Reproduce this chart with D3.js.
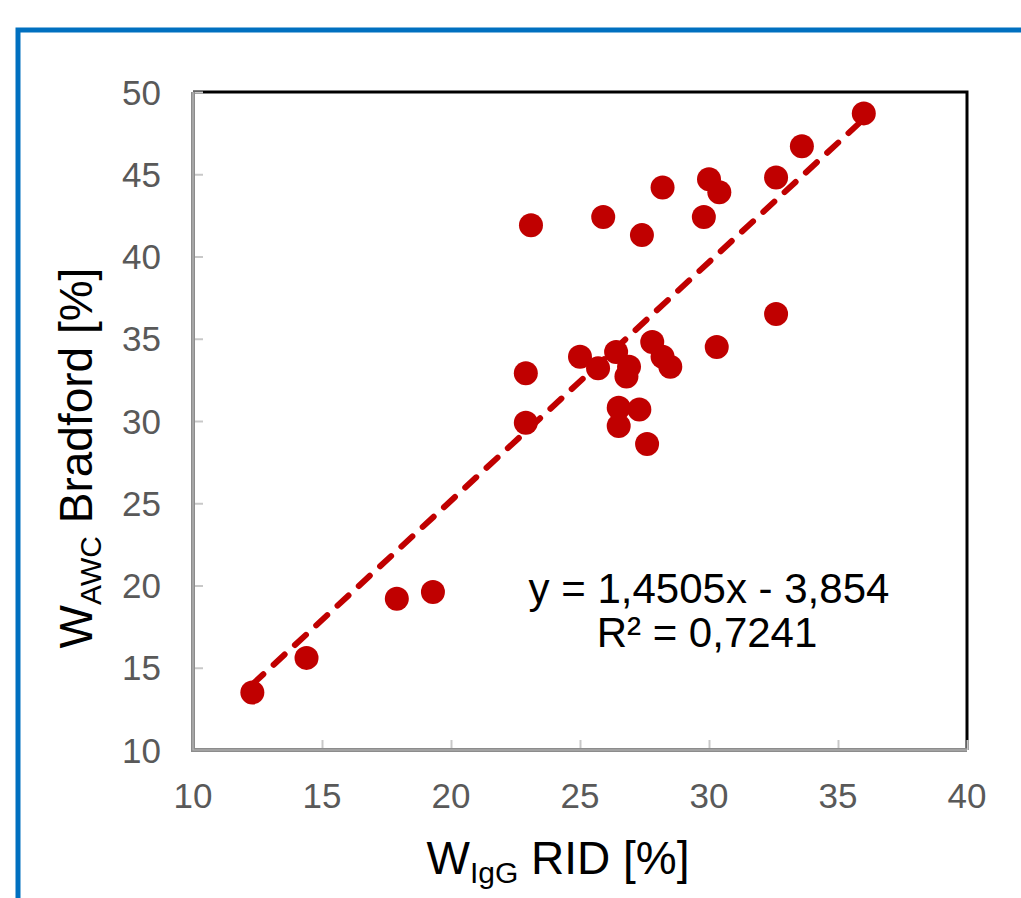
<!DOCTYPE html>
<html><head><meta charset="utf-8">
<script src="https://cdn.jsdelivr.net/npm/d3@7"></script>
<style>html,body{margin:0;padding:0;background:#fff;}svg{display:block;}</style>
</head><body>
<script>
const xValues = [12.3,14.4,17.9,19.3,22.9,22.9,25.0,25.7,26.4,26.9,26.8,27.8,28.2,28.5,30.3,26.5,26.5,27.3,27.6,23.1,25.9,27.4,28.2,30.0,30.4,29.8,32.6,33.6,36.0,32.6];
const yValues = [13.5,15.6,19.2,19.6,32.9,29.9,33.9,33.2,34.2,33.3,32.7,34.8,33.9,33.3,34.5,30.8,29.7,30.7,28.6,41.9,42.4,41.3,44.2,44.7,43.9,42.4,44.8,46.7,48.7,36.5];
const xTicks = [10,15,20,25,30,35,40];
const yTicks = [10,15,20,25,30,35,40,45,50];
const slope = 1.4505, intercept = -3.854;
const eqLine1 = "y = 1,4505x - 3,854";
const eqLine2 = "R² = 0,7241";

const W = 1021, H = 898;
const svg = d3.select("body").append("svg").attr("width", W).attr("height", H);
const font = "'Liberation Sans', Arial, sans-serif";

// blue frame
svg.append("path").attr("d", "M18,898 L18,30 L1021,30").attr("fill","none")
  .attr("stroke","#0070C0").attr("stroke-width",5);

const x = d3.scaleLinear().domain([10,40]).range([193,967]);
const y = d3.scaleLinear().domain([10,50]).range([750,92]);

// plot border (top/right black)
svg.append("path").attr("d", `M${x(10)},${y(50)} L${x(40)},${y(50)} L${x(40)},${y(10)}`)
  .attr("fill","none").attr("stroke","#000").attr("stroke-width",3);

// inward ticks
const xAxis = d3.axisTop(x).tickValues(xTicks).tickSize(10).tickFormat("");
const gx = svg.append("g").attr("transform", `translate(0,${y(10)})`).call(xAxis);
gx.select(".domain").remove();
gx.selectAll(".tick line").attr("stroke","#c8c8c8").attr("stroke-width",2);
const yAxis = d3.axisRight(y).tickValues(yTicks).tickSize(10).tickFormat("");
const gy = svg.append("g").attr("transform", `translate(${x(10)},0)`).call(yAxis);
gy.select(".domain").remove();
gy.selectAll(".tick line").attr("stroke","#c8c8c8").attr("stroke-width",2);

// left/bottom axis lines gray
svg.append("path").attr("d", `M${x(10)},${y(50)} L${x(10)},${y(10)} L${x(40)},${y(10)}`)
  .attr("fill","none").attr("stroke","#8c8c8c").attr("stroke-width",4);
svg.append("path").attr("d", `M${x(10)},${y(50)} L${x(10)},${y(10)} L${x(40)},${y(10)}`)
  .attr("fill","none").attr("stroke","#b8b8b8").attr("stroke-width",1.2);

// tick labels
svg.append("g").selectAll("text").data(xTicks).join("text")
  .attr("x", d => x(d)).attr("y", 808).attr("text-anchor","middle")
  .attr("font-family", font).attr("font-size", 35).attr("fill","#595959").text(d => d);
svg.append("g").selectAll("text").data(yTicks).join("text")
  .attr("x", 161).attr("y", d => y(d)).attr("dy","0.36em").attr("text-anchor","end")
  .attr("font-family", font).attr("font-size", 35).attr("fill","#595959").text(d => d);

// trendline
const x0 = d3.min(xValues), x1 = d3.max(xValues);
svg.append("line")
  .attr("x1", x(x0)).attr("y1", y(slope*x0+intercept))
  .attr("x2", x(x1)).attr("y2", y(slope*x1+intercept))
  .attr("stroke","#C00000").attr("stroke-width",6)
  .attr("stroke-dasharray","15,14").attr("stroke-linecap","round");

// points
svg.append("g").selectAll("circle").data(xValues.map((v,i)=>[v,yValues[i]])).join("circle")
  .attr("cx", d => x(d[0])).attr("cy", d => y(d[1])).attr("r", 12).attr("fill","#C00000");

// equation
svg.append("text").attr("x", 709).attr("y", 603).attr("text-anchor","middle")
  .attr("font-family", font).attr("font-size", 42).attr("fill","#000").text(eqLine1);
svg.append("text").attr("x", 707).attr("y", 647).attr("text-anchor","middle")
  .attr("font-family", font).attr("font-size", 42).attr("fill","#000").text(eqLine2);

// x title
const xt = svg.append("text").attr("x", 558).attr("y", 874).attr("text-anchor","middle")
  .attr("font-family", font).attr("font-size", 46).attr("fill","#000");
xt.append("tspan").text("W");
xt.append("tspan").attr("font-size", 30).attr("dy", 9).text("IgG");
xt.append("tspan").attr("dy", -9).text(" RID [%]");

// y title
const yt = svg.append("text").attr("transform", `translate(92,458) rotate(-90)`).attr("text-anchor","middle")
  .attr("font-family", font).attr("font-size", 46).attr("fill","#000");
yt.append("tspan").text("W");
yt.append("tspan").attr("font-size", 30).attr("dy", 9).text("AWC");
yt.append("tspan").attr("dy", -9).text(" Bradford [%]");
</script>
</body></html>
